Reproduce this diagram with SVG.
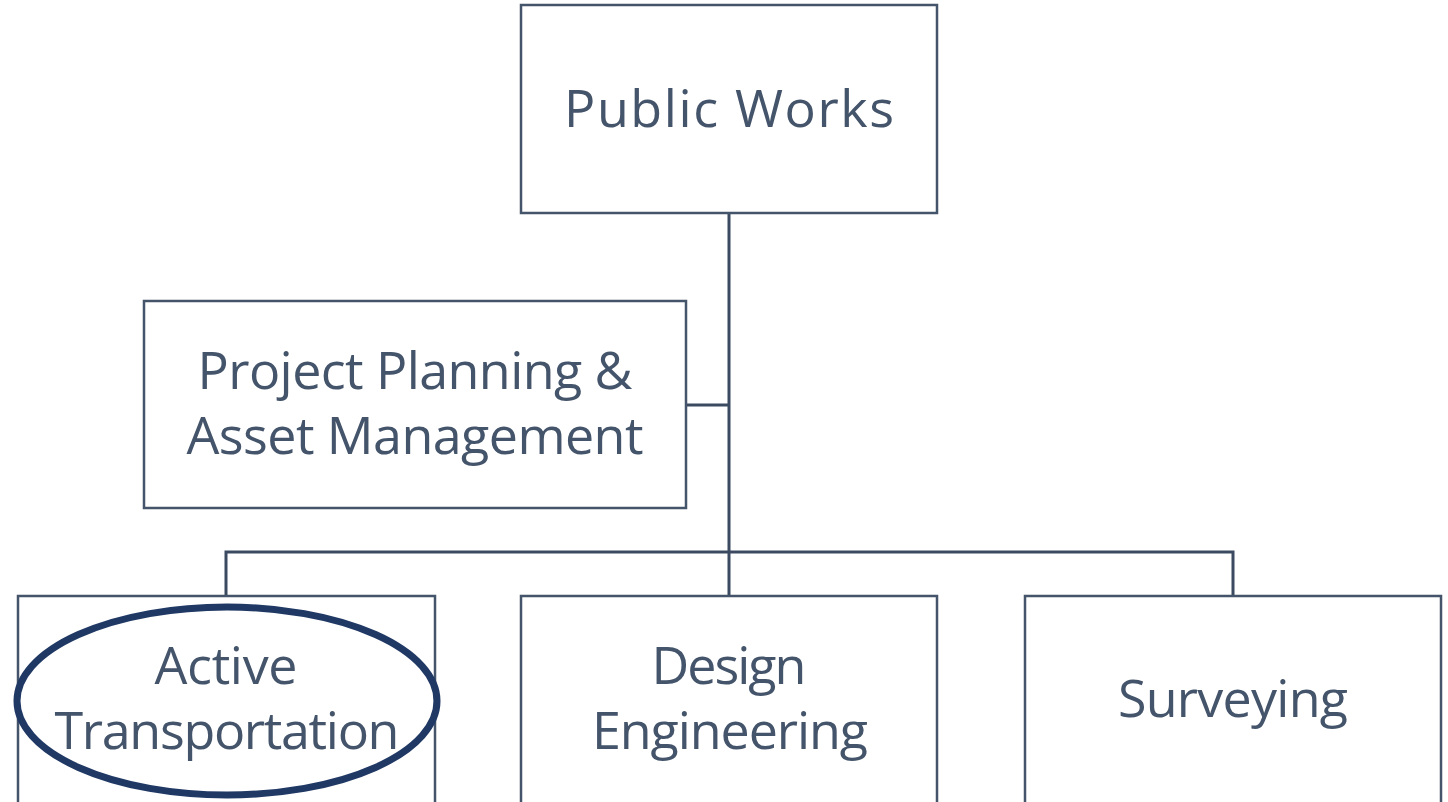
<svg xmlns="http://www.w3.org/2000/svg" width="1448" height="802" viewBox="0 0 1448 802">
<style>
.box{fill:#ffffff;stroke:#44546a;stroke-width:2.5}
.conn{fill:none;stroke:#3b4a60;stroke-width:3}
.lbl{font-family:"Open Sans","Noto Sans",sans-serif;font-size:52px;fill:#44546a;text-anchor:middle}
.hl{fill:none;stroke:#203864;stroke-width:7}
</style>
<rect width="1448" height="802" fill="#ffffff"/>
<g id="connectors">
<path class="conn" d="M729 213 V596"/>
<path class="conn" d="M686 405 H729"/>
<path class="conn" d="M226 596 V552 H1233 V596"/>
</g>
<g id="public-works">
<rect class="box" x="521" y="5" width="416" height="208"/>
<text class="lbl" x="729" y="127" textLength="330">Public Works</text>
</g>
<g id="project-planning">
<rect class="box" x="144" y="301" width="542" height="207"/>
<text class="lbl" x="415" y="389" textLength="435">Project Planning &amp;</text>
<text class="lbl" x="415" y="454" textLength="457">Asset Management</text>
</g>
<g id="active-transportation">
<rect class="box" x="18" y="596" width="417" height="220"/>
<text class="lbl" x="226" y="684" textLength="143">Active</text>
<text class="lbl" x="227" y="749" textLength="345">Transportation</text>
</g>
<g id="design-engineering">
<rect class="box" x="521" y="596" width="416" height="220"/>
<text class="lbl" x="729" y="684" textLength="155">Design</text>
<text class="lbl" x="730" y="749" textLength="276">Engineering</text>
</g>
<g id="surveying">
<rect class="box" x="1025" y="596" width="416" height="220"/>
<text class="lbl" x="1233" y="717" textLength="230">Surveying</text>
</g>
<g id="highlight">
<ellipse class="hl" cx="227" cy="701" rx="210" ry="94"/>
</g>
</svg>
